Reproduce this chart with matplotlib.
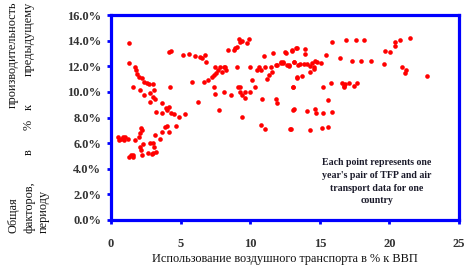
import matplotlib
matplotlib.use("Agg")
import matplotlib.pyplot as plt
from matplotlib.ticker import FuncFormatter

# air transport use (% of GDP) vs TFP growth (%)
air_share = [
    1.32, 1.32, 1.71, 1.61, 1.80, 1.90, 2.04, 2.20, 2.38, 2.10, 2.34, 2.57, 2.76, 3.00,
    2.81, 3.10, 2.81, 3.00, 3.13, 3.25, 3.65, 3.68, 4.00, 4.13, 4.25, 4.13, 4.30, 4.30,
    4.54, 4.86, 5.34, 3.92, 3.65, 3.89, 4.00, 4.20, 4.69, 3.53, 3.17, 3.00, 3.10, 3.20,
    3.05, 2.96, 2.69, 2.81, 2.28, 2.10, 2.14, 2.20, 2.04, 2.14, 2.20, 2.10, 1.71, 1.42,
    1.56, 1.61, 1.32, 0.53, 0.70, 0.84, 0.94, 1.01, 1.25, 0.60,
    5.17, 5.58, 6.06, 6.37, 6.54, 6.78, 6.85, 5.82, 6.27, 6.66, 6.95, 7.26, 7.38, 7.57,
    7.50, 7.67, 7.86, 7.98, 8.10, 8.29, 8.20, 7.38, 7.48, 7.74, 8.10, 8.39, 8.63, 8.82,
    8.94, 9.06, 9.18, 9.30, 9.42, 9.78, 9.90, 9.06, 9.10, 9.25, 9.30, 9.42, 9.60, 9.66,
    9.42, 10.02, 9.98, 10.14, 10.31, 10.46, 10.62, 10.75, 10.87, 10.99, 11.04, 11.23,
    11.35, 11.47, 11.59, 11.66, 11.83, 11.90, 11.83, 11.95, 12.20, 12.38, 12.55, 12.67,
    12.80, 12.99, 13.15, 13.27, 13.35, 13.06, 13.10, 10.75, 11.04, 12.90,
    12.47, 12.37, 12.23, 13.02, 13.33, 12.80, 13.14, 13.42, 13.60, 13.85, 13.97, 13.97,
    14.09, 14.33, 14.45, 14.57, 14.69, 14.81, 15.05, 14.57, 14.28, 13.74, 13.33, 13.09,
    15.48, 15.88, 15.81, 15.24, 15.57, 13.14, 14.09, 14.69, 14.76, 15.24, 15.88, 12.85,
    14.28, 15.17, 15.57, 16.48, 16.91, 17.63, 18.20, 17.32, 17.96, 18.68, 16.60, 16.72,
    16.84, 17.08, 16.77, 17.49, 17.68, 19.63, 19.70, 20.06, 20.42, 20.42, 20.73, 21.50,
    20.90, 21.20, 21.14, 22.68,
]
tfp_growth = [
    13.84, 12.23, 11.97, 10.35, 11.70, 11.40, 11.19, 11.06, 10.80, 10.15, 9.76, 10.67,
    10.61, 10.61, 9.94, 10.15, 9.24, 9.63, 9.42, 8.45, 8.38, 9.10, 8.58, 8.85, 10.40,
    13.14, 13.19, 8.32, 8.27, 8.06, 8.27, 8.71, 6.89, 7.28, 7.34, 6.84, 7.34, 6.30, 6.63,
    6.04, 5.72, 5.33, 5.20, 5.12, 5.20, 5.98, 5.93, 5.72, 5.46, 5.07, 6.50, 7.15, 7.02,
    6.76, 6.24, 5.07, 4.89, 5.05, 4.94, 6.50, 6.30, 6.45, 6.24, 6.45, 6.30, 6.24,
    12.88, 12.93, 12.80, 12.75, 12.67, 12.88, 12.36, 10.80, 9.24, 10.80, 10.93, 11.13,
    11.32, 11.50, 11.97, 11.71, 11.97, 11.58, 11.92, 11.71, 11.97, 10.35, 9.83, 8.58,
    10.02, 13.27, 9.76, 13.27, 13.40, 13.53, 14.10, 13.92, 14.00, 13.79, 14.10, 11.97,
    10.35, 10.40, 10.02, 9.76, 9.50, 10.02, 8.06, 10.02, 11.97, 10.93, 10.40, 11.71,
    11.97, 11.71, 9.42, 12.80, 11.97, 10.98, 11.32, 11.97, 11.58, 13.00, 9.42, 9.16,
    12.10, 12.10, 12.36, 12.23, 13.06, 12.10, 12.10, 13.27, 12.36, 13.40, 11.19, 10.40,
    8.58, 7.41, 7.08, 7.08,
    13.14, 12.36, 12.23, 13.22, 13.40, 12.02, 12.36, 12.10, 12.17, 12.17, 13.32, 12.96,
    12.17, 12.02, 12.28, 11.97, 12.43, 12.36, 12.28, 11.76, 11.58, 11.24, 11.06, 10.35,
    12.88, 13.92, 10.72, 10.35, 9.37, 8.64, 8.53, 8.64, 8.38, 8.38, 8.45, 7.08, 7.02,
    7.15, 7.28, 12.62, 14.05, 14.05, 14.05, 12.43, 12.43, 12.38, 10.72, 10.46, 10.61,
    10.72, 10.35, 10.46, 10.67, 12.17, 13.19, 13.14, 13.58, 13.92, 14.05, 14.18, 11.97,
    11.71, 11.50, 11.24,
]

x_ticks = [0, 5, 10, 15, 20, 25]
y_ticks = [0, 2, 4, 6, 8, 10, 12, 14, 16]

note = "Each point represents one\nyear's pair of TFP and air\ntransport data for one\ncountry"
x_title = "Использование воздушного транспорта в % к ВВП"

serif = ["Liberation Serif", "DejaVu Serif"]
blue = "#0000ff"

fig = plt.figure(figsize=(4.69, 2.71), dpi=100)
ax = fig.add_axes([0.2367, 0.1882, 0.742, 0.7564])

ax.scatter(air_share, tfp_growth, s=11, color="#ff0000", marker="o", linewidths=0, zorder=3)

ax.set_xlim(0, 25)
ax.set_ylim(0, 16)
ax.set_xticks(x_ticks)
ax.set_yticks(y_ticks)
ax.yaxis.set_major_formatter(FuncFormatter(lambda v, p: f"{v:.1f}%"))

for sp in ax.spines.values():
    sp.set_color(blue)
    sp.set_linewidth(2.3)
ax.tick_params(axis="both", colors=blue, width=2, length=3, direction="out", pad=4)
for lab in ax.get_xticklabels() + ax.get_yticklabels():
    lab.set_fontfamily(serif)
    lab.set_fontweight("bold")
    lab.set_fontsize(9)
    lab.set_color("#333333")
ax.tick_params(axis="x", pad=10)

ax.set_xlabel(x_title, fontfamily=serif, fontsize=8.8, color="#111111", labelpad=2)

ax.text(19.1, 4.85, note, ha="center", va="top", fontfamily=serif, fontweight="bold",
        fontsize=7.1, color="#1a1a2a", linespacing=1.55)

# y-axis title, justified over three rotated lines
H = 271.0
def ytxt(xpx, ypx, s, va):
    fig.text(xpx / 469.0, 1 - ypx / H, s, rotation=90, ha="center", va=va,
             fontfamily=serif, fontsize=8.8, color="#111111")

ytxt(13, 233, "Общая", "bottom")
ytxt(13, 2, "производительность", "top")
ytxt(29, 233, "факторов,", "bottom")
ytxt(29, 152, "в", "center")
ytxt(29, 125, "%", "center")
ytxt(29, 107, "к", "center")
ytxt(29, 2, "предыдущему", "top")
ytxt(44, 233, "периоду", "bottom")

fig.savefig("out.png", dpi=100)
